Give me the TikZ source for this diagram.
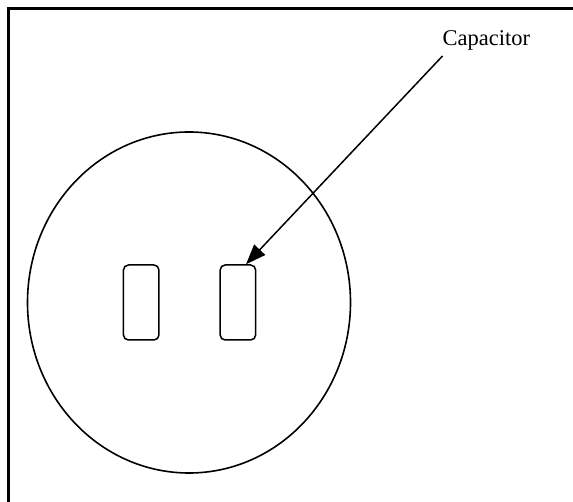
\documentclass[tikz,border=0pt]{standalone}
\usepackage{fontspec}
\setmainfont{Liberation Serif}
\usetikzlibrary{shapes.geometric,arrows.meta,calc}
\begin{document}
\begin{tikzpicture}[x=1pt,y=-1pt,
  frameline/.style={line width=2.6pt},
  capbox/.style={draw,line width=1.5pt,rounded corners=5pt,minimum width=35.5pt,minimum height=75pt,inner sep=0pt},
  ring/.style={draw,ellipse,line width=1.6pt,minimum width=323pt,minimum height=341pt,inner sep=0pt},
  pointer/.style={line width=1.5pt,-{Triangle[length=20pt,width=15pt]}},
  lbl/.style={font=\fontsize{22.5}{26}\selectfont,inner sep=0pt}]
\useasboundingbox (0,0) rectangle (573,502);
\fill[white] (0,0) rectangle (573,502);
\draw[frameline] (573,8.5) -- (8.5,8.5) -- (8.5,502);
\node[ring] (socket) at (189,302.5) {};
\node[capbox] (c1) at (141.2,302.5) {};
\node[capbox] (c2) at (237.9,302.5) {};
\node[lbl,anchor=base west] (cap) at (442.5,46) {Capacitor};
\coordinate (start) at (442.5,56);
\draw[pointer] (start) -- ($(c2.north west)!0.72!(c2.north east)$);
\end{tikzpicture}
\end{document}
